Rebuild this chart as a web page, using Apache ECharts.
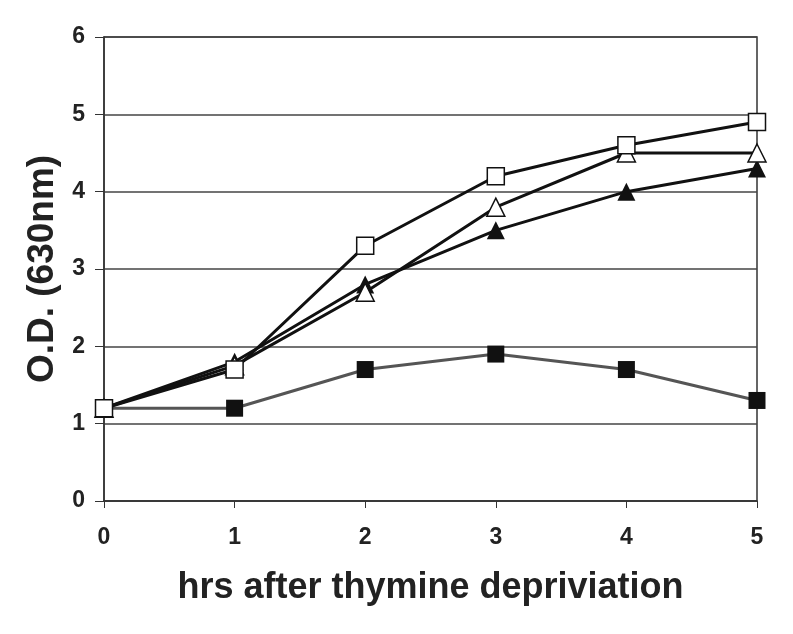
<!DOCTYPE html>
<html>
<head>
<meta charset="utf-8">
<script src="https://cdn.jsdelivr.net/npm/echarts@6/dist/echarts.min.js"></script>
<style>
  html, body { margin: 0; padding: 0; background: #fff; }
  #ch { width: 793px; height: 634px; }
</style>
</head>
<body>
<div id="ch"></div>
<script>
var hours = [0, 1, 2, 3, 4, 5];
var openSquare = [1.2, 1.7, 3.3, 4.2, 4.6, 4.9];
var openTriangle = [1.2, 1.75, 2.7, 3.8, 4.5, 4.5];
var filledTriangle = [1.2, 1.8, 2.8, 3.5, 4.0, 4.3];
var filledSquare = [1.2, 1.2, 1.7, 1.9, 1.7, 1.3];

function pairs(vals) {
    return hours.map(function (h, i) { return [h, vals[i]]; });
}

var chart = echarts.init(document.getElementById('ch'));
var font = 'Liberation Sans, Arial, sans-serif';

function mkSeries(vals, symbol, filled, lineColor) {
    return {
        type: 'line',
        data: pairs(vals),
        symbol: symbol,
        symbolSize: symbol === 'triangle' ? 18 : 17,
        lineStyle: { color: lineColor, width: 3 },
        itemStyle: {
            color: filled ? '#111' : '#fff',
            borderColor: '#111',
            borderWidth: filled ? 0 : 1.5
        },
        emphasis: { disabled: true },
        animation: false
    };
}

chart.setOption({
    backgroundColor: '#fff',
    grid: { left: 104, right: 36, top: 37, bottom: 133, show: true, borderColor: '#333', borderWidth: 1.5 },
    xAxis: {
        type: 'value', min: 0, max: 5, interval: 1,
        name: 'hrs after thymine depriviation',
        nameLocation: 'middle', nameGap: 69,
        nameTextStyle: { fontFamily: font, fontWeight: 'bold', fontSize: 36, color: '#222' },
        axisLine: { lineStyle: { color: '#333', width: 1.5 } },
        axisTick: { show: true, inside: false, length: 7, lineStyle: { color: '#333' } },
        axisLabel: { fontFamily: font, fontWeight: 'bold', fontSize: 23, color: '#222', margin: 25 },
        splitLine: { show: false }
    },
    yAxis: {
        type: 'value', min: 0, max: 6, interval: 1,
        name: 'O.D. (630nm)',
        nameLocation: 'middle', nameGap: 40,
        nameTextStyle: { fontFamily: font, fontWeight: 'bold', fontSize: 37, color: '#222' },
        axisLine: { show: true, lineStyle: { color: '#333', width: 1.5 } },
        axisTick: { show: true, inside: false, length: 9, lineStyle: { color: '#333' } },
        axisLabel: { fontFamily: font, fontWeight: 'bold', fontSize: 23, color: '#222', margin: 19 },
        splitLine: { show: true, lineStyle: { color: '#444', width: 1.5 } }
    },
    series: [
        mkSeries(filledSquare, 'rect', true, '#555'),
        mkSeries(filledTriangle, 'triangle', true, '#111'),
        mkSeries(openTriangle, 'triangle', false, '#111'),
        mkSeries(openSquare, 'rect', false, '#111')
    ]
});
</script>
</body>
</html>
